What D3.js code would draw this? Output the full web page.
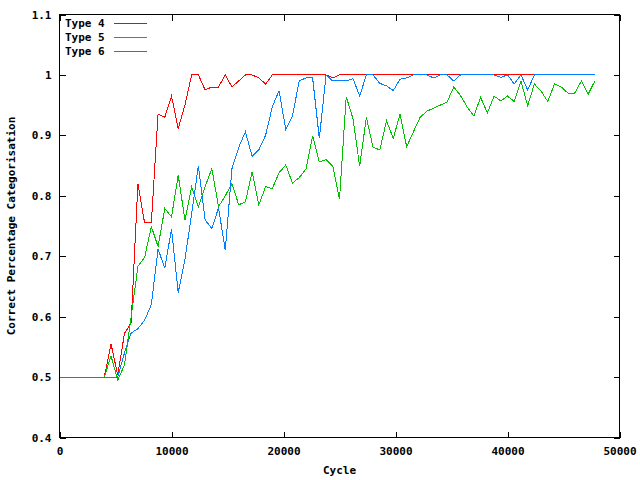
<!DOCTYPE html>
<html>
<head>
<meta charset="utf-8">
<script src="https://cdn.jsdelivr.net/npm/d3@7"></script>
<style>
  html, body { margin: 0; padding: 0; background: #fff; }
  svg { display: block; }
  text { font-family: "DejaVu Sans Mono", "Liberation Mono", monospace; font-size: 11px; font-weight: bold; fill: #000; }
</style>
</head>
<body>
<script>
// ---- Data ----
const cycles = [0, 4000, 4600, 5200, 5800, 6400, 7000, 7600, 8200, 8800, 9400,
  10000, 10600, 11200, 11800, 12400, 13000, 13600, 14200, 14800, 15400,
  16000, 16600, 17200, 17800, 18400, 19000, 19600, 20200, 20800, 21400,
  22000, 22600, 23200, 23800, 24400, 25000, 25600, 26200, 26800, 27400,
  28000, 28600, 29200, 29800, 30400, 31000, 31600, 32200, 32800, 33400,
  34000, 34600, 35200, 35800, 36400, 37000, 37600, 38200, 38800, 39400,
  40000, 40600, 41200, 41800, 42400, 43000, 43600, 44200, 44800, 45400,
  46000, 46600, 47200, 47800];

const type4 = [0.5, 0.5, 0.555, 0.503, 0.572, 0.59, 0.82, 0.755, 0.755, 0.935, 0.93,
  0.965, 0.911, 0.95, 1.0, 1.0, 0.975, 0.98, 0.98, 1.0, 0.98,
  0.99, 1.0, 1.0, 0.995, 0.985, 1.0, 1.0, 1.0, 1.0, 1.0,
  1.0, 1.0, 1.0, 1.0, 0.995, 1.0, 1.0, 1.0, 1.0, 1.0,
  1.0, 1.0, 1.0, 1.0, 1.0, 1.0, 1.0, 1.0, 1.0, 1.0,
  1.0, 1.0, 1.0, 1.0, 1.0, 1.0, 1.0, 1.0, 1.0, 1.0,
  1.0, 1.0, 1.0, 1.0, 1.0, 1.0, 1.0, 1.0, 1.0, 1.0,
  1.0, 1.0, 1.0, 1.0];

const type5 = [0.5, 0.5, 0.535, 0.495, 0.52, 0.6, 0.683, 0.698, 0.749, 0.716, 0.779,
  0.765, 0.834, 0.76, 0.815, 0.782, 0.815, 0.845, 0.782, 0.80, 0.82,
  0.785, 0.79, 0.84, 0.785, 0.815, 0.812, 0.838, 0.851, 0.821, 0.83,
  0.844, 0.899, 0.856, 0.86, 0.849, 0.794, 0.964, 0.928, 0.849, 0.93,
  0.88, 0.876, 0.924, 0.895, 0.935, 0.881, 0.906, 0.93, 0.94, 0.945,
  0.95, 0.955, 0.98, 0.966, 0.947, 0.932, 0.963, 0.937, 0.965, 0.957,
  0.965, 0.956, 0.99, 0.949, 0.985, 0.973, 0.956, 0.985, 0.98, 0.97,
  0.97, 0.99, 0.968, 0.99];

const type6 = [0.5, 0.5, 0.5, 0.5, 0.54, 0.573, 0.58, 0.594, 0.62, 0.712, 0.68,
  0.745, 0.64, 0.695, 0.77, 0.85, 0.76, 0.746, 0.78, 0.71, 0.845,
  0.88, 0.906, 0.865, 0.876, 0.90, 0.947, 0.974, 0.91, 0.932, 0.99,
  0.995, 0.995, 0.895, 1.0, 0.99, 0.99, 0.99, 0.994, 0.965, 1.0,
  1.0, 0.986, 0.982, 0.974, 0.993, 0.995, 1.0, 1.0, 1.0, 0.995,
  1.0, 1.0, 0.99, 1.0, 1.0, 1.0, 1.0, 1.0, 1.0, 0.996,
  1.0, 0.985, 1.0, 0.975, 1.0, 1.0, 1.0, 1.0, 1.0, 1.0,
  1.0, 1.0, 1.0, 1.0];

const seriesNames = ["Type 4", "Type 5", "Type 6"];
const seriesColors = ["#ff0000", "#00c000", "#0080ff"];
const xTicks = [0, 10000, 20000, 30000, 40000, 50000];
const yTicks = [0.4, 0.5, 0.6, 0.7, 0.8, 0.9, 1.0, 1.1];
const xLabel = "Cycle";
const yLabel = "Correct Percentage Categorisation";

// ---- Chart ----
const W = 640, H = 480;
const L = 59.5, R = 619.5, T = 14.5, B = 437.5;

const svg = d3.select("body").append("svg").attr("width", W).attr("height", H);
svg.append("rect").attr("width", W).attr("height", H).attr("fill", "#fff");

const x = d3.scaleLinear().domain([0, 50000]).range([L, R]);
const y = d3.scaleLinear().domain([0.4, 1.1]).range([B, T]);

const yFmt = d => String(+d.toFixed(1));

// bottom axis (labels)
const gB = svg.append("g").attr("transform", `translate(0,${B})`)
  .call(d3.axisBottom(x).tickValues(xTicks).tickSize(-6).tickPadding(10).tickFormat(d3.format("d")));
// top axis (mirror ticks)
const gT = svg.append("g").attr("transform", `translate(0,${T})`)
  .call(d3.axisTop(x).tickValues(xTicks).tickSize(-6).tickFormat(""));
// left axis
const gL = svg.append("g").attr("transform", `translate(${L},0)`)
  .call(d3.axisLeft(y).tickValues(yTicks).tickSize(-6).tickPadding(8).tickFormat(yFmt));
// right axis (mirror ticks)
const gR = svg.append("g").attr("transform", `translate(${R},0)`)
  .call(d3.axisRight(y).tickValues(yTicks).tickSize(-6).tickFormat(""));

[gB, gT, gL, gR].forEach(g => {
  g.select(".domain").remove();
  g.selectAll(".tick line").attr("stroke", "#000").attr("shape-rendering", "crispEdges");
  g.selectAll("text").attr("font-family", null).attr("font-size", null).style("fill", "#000");
});
gB.selectAll(".tick text").attr("dy", "0.71em");

// border
svg.append("rect")
  .attr("x", L).attr("y", T).attr("width", R - L).attr("height", B - T)
  .attr("fill", "none").attr("stroke", "#000").attr("stroke-width", 1)
  .attr("shape-rendering", "crispEdges");

// axis titles
svg.append("text").attr("x", (L + R) / 2).attr("y", 471)
  .attr("text-anchor", "middle").attr("dominant-baseline", "middle").text(xLabel);
svg.append("text")
  .attr("transform", `translate(12,${(T + B) / 2}) rotate(-90)`)
  .attr("text-anchor", "middle").attr("dominant-baseline", "middle").text(yLabel);

// lines
const allSeries = [type4, type5, type6];
const line = d3.line().x((d, i) => x(cycles[i])).y(d => y(d));
allSeries.forEach((vals, si) => {
  svg.append("path").datum(vals)
    .attr("d", line)
    .attr("fill", "none")
    .attr("stroke", seriesColors[si])
    .attr("stroke-width", 1)
    .attr("shape-rendering", "crispEdges");
});

// legend
const legendY = [23.5, 37.5, 51.5];
seriesNames.forEach((name, si) => {
  svg.append("text").attr("x", 65).attr("y", legendY[si])
    .attr("dominant-baseline", "middle").text(name);
  svg.append("line")
    .attr("x1", 114).attr("x2", 147).attr("y1", legendY[si]).attr("y2", legendY[si])
    .attr("stroke", seriesColors[si]).attr("stroke-width", 1)
    .attr("shape-rendering", "crispEdges");
});
</script>
</body>
</html>
